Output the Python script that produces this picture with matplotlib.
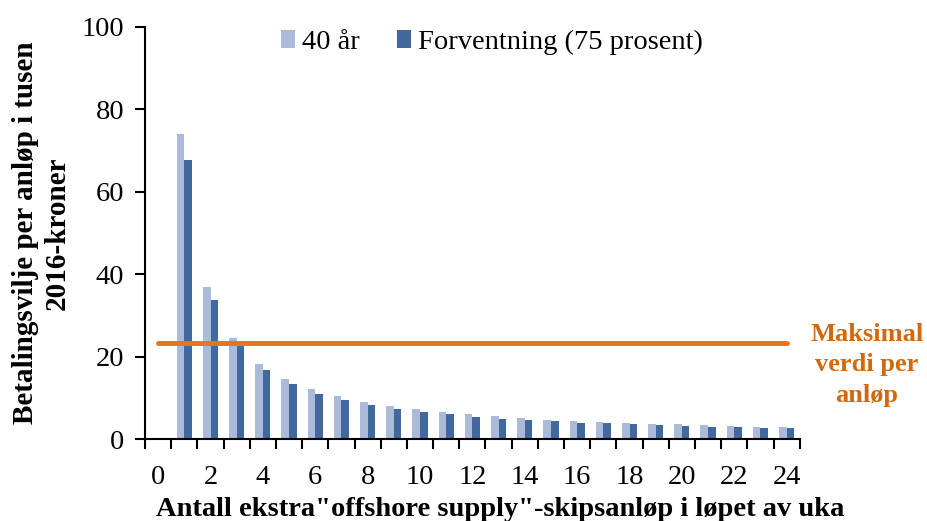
import matplotlib.pyplot as plt
import numpy as np

plt.rcParams['font.family'] = ['Liberation Serif', 'DejaVu Serif']

# data
anlop = list(range(0, 25))
verdi_40ar = [0, 74.0, 36.8, 24.5, 18.3, 14.6, 12.2, 10.5, 9.0, 8.1, 7.3, 6.6, 6.1,
              5.6, 5.2, 4.8, 4.4, 4.2, 3.95, 3.8, 3.6, 3.5, 3.2, 3.1, 2.9]
verdi_forv = [0, 67.7, 33.8, 22.5, 16.8, 13.4, 11.1, 9.5, 8.3, 7.3, 6.6, 6.1, 5.5,
              5.0, 4.7, 4.4, 4.0, 3.9, 3.6, 3.5, 3.3, 3.1, 2.9, 2.8, 2.7]
maks_verdi = 23.4
x_labels = [str(v) if v % 2 == 0 else '' for v in anlop]

lys_bla = '#ABBAD8'
mork_bla = '#41699E'
oransje = '#E8731A'
tekst_oransje = '#D0690F'

fig = plt.figure(figsize=(9.28, 5.21), dpi=100)
ax = fig.add_axes([0.1563, 0.1568, 0.7055, 0.7918])

x = np.arange(len(anlop))
w = 0.29
ax.bar(x - w / 2, verdi_40ar, w, color=lys_bla, label='40 år')
ax.bar(x + w / 2, verdi_forv, w, color=mork_bla, label='Forventning (75 prosent)')

# maks linje
ax.plot([x[0], x[-1]], [maks_verdi, maks_verdi], color=oransje, linewidth=3.5,
        solid_capstyle='round')
fig.text(0.934, 0.30, 'Maksimal\nverdi per\nanløp', color=tekst_oransje,
         fontsize=19, fontweight='bold', ha='center', va='center', linespacing=1.42)

ax.set_xlim(-0.5, len(anlop) - 0.5)
ax.set_ylim(0, 100)
ax.set_yticks([0, 20, 40, 60, 80, 100])
ax.set_xticks(x)
ax.set_xticklabels(x_labels)
ax.set_xticks(np.arange(-0.5, len(anlop), 1), minor=True)
ax.tick_params(axis='x', which='major', length=0, labelsize=20.5, pad=18.5)
ax.tick_params(axis='x', which='minor', length=7, width=1.5, direction='out')
ax.tick_params(axis='y', which='major', length=7, width=1.5, labelsize=20.5, pad=8)

for s in ['top', 'right']:
    ax.spines[s].set_visible(False)
for s in ['left', 'bottom']:
    ax.spines[s].set_linewidth(1.5)

ax.set_xlabel('Antall ekstra"offshore supply"-skipsanløp i løpet av uka',
              fontsize=20.5, fontweight='bold')
ax.xaxis.set_label_coords(0.543, -0.14)
ax.set_ylabel('Betalingsvilje per anløp i tusen\n2016-kroner',
              fontsize=21, fontweight='bold', linespacing=1.2)
ax.yaxis.set_label_coords(-0.114, 0.5)

ax.legend(loc='upper center', bbox_to_anchor=(0.53, 1.055), ncol=2, frameon=False,
          fontsize=20.5, handlelength=0.5, handleheight=0.6, handletextpad=0.25,
          columnspacing=1.3)

plt.savefig('out.png', dpi=100)
